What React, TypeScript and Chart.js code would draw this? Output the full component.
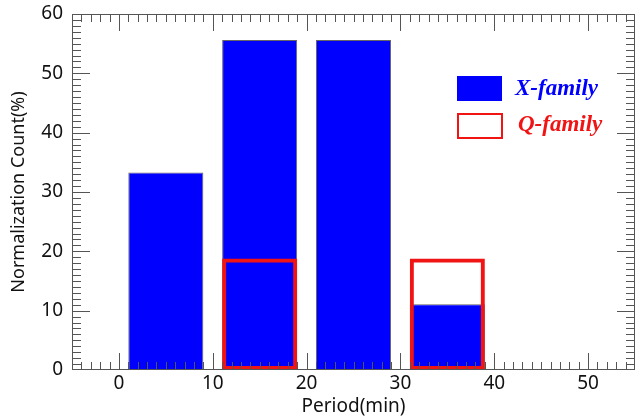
import React, { useEffect, useRef } from "react";
import { Chart, registerables } from "chart.js";

Chart.register(...registerables);

// ---- data ----
const xFamilyPeriods = [5, 15, 25, 35];
const xFamilyValues = [33.3, 55.6, 55.6, 11.1];
const qFamilyPeriods = [15, 35];
const qFamilyValues = [18.8, 18.8];
const xTickValues = [0, 10, 20, 30, 40, 50];
const yTickValues = [0, 10, 20, 30, 40, 50, 60];
const legendLabels = ["X-family", "Q-family"];
const xAxisTitle = "Period(min)";
const yAxisTitle = "Normalization Count(%)";

const BLUE = "#0000FF";
const RED = "#F01414";
const AXIS = "#555555";
const FONT = '"Noto Sans", "Open Sans", sans-serif';

const frameTicksPlugin = {
  id: "frameTicks",
  afterDatasetsDraw(chart: any) {
    const { ctx, chartArea, scales } = chart;
    const { left, right, top, bottom } = chartArea;
    const x = scales.x;
    const y = scales.y;
    ctx.save();
    ctx.strokeStyle = AXIS;
    ctx.lineWidth = 1;
    const line = (x1: number, y1: number, x2: number, y2: number) => {
      ctx.beginPath();
      ctx.moveTo(x1, y1);
      ctx.lineTo(x2, y2);
      ctx.stroke();
    };
    for (let v = Math.ceil(x.min) + 1; v < x.max; v++) {
      const px = Math.round(x.getPixelForValue(v)) + 0.5;
      const len = v % 10 === 0 ? 17 : 8;
      line(px, bottom, px, bottom - len);
      line(px, top, px, top + len);
    }
    for (let v = Math.ceil(y.min) + 1; v < y.max; v++) {
      const py = Math.round(y.getPixelForValue(v)) + 0.5;
      const len = v % 10 === 0 ? 18 : 9;
      line(left, py, left + len, py);
      line(right, py, right - len, py);
    }
    ctx.strokeRect(left + 0.5, top + 0.5, right - left - 1, bottom - top - 1);
    ctx.restore();
  },
};

const legendPlugin = {
  id: "customLegend",
  afterDraw(chart: any) {
    const { ctx, chartArea } = chart;
    const bx = chartArea.left + 385;
    const by = chartArea.top + 62;
    ctx.save();
    ctx.fillStyle = BLUE;
    ctx.fillRect(bx, by, 45, 25);
    ctx.strokeStyle = RED;
    ctx.lineWidth = 2;
    ctx.strokeRect(bx + 1, by + 38, 44, 24);
    ctx.font = 'italic bold 23px "Liberation Serif", "DejaVu Serif", serif';
    ctx.textBaseline = "alphabetic";
    ctx.textAlign = "left";
    ctx.fillStyle = BLUE;
    ctx.fillText(legendLabels[0], bx + 58, by + 19);
    ctx.fillStyle = RED;
    ctx.fillText(legendLabels[1], bx + 61, by + 55);
    ctx.restore();
  },
};

export default function App() {
  const canvasRef = useRef<HTMLCanvasElement | null>(null);

  useEffect(() => {
    const canvas = canvasRef.current;
    if (!canvas) return;
    const chart = new Chart(canvas, {
      type: "bar",
      data: {
        datasets: [
          {
            label: legendLabels[1],
            data: qFamilyPeriods.map((p, i) => ({ x: p, y: qFamilyValues[i] })),
            backgroundColor: "rgba(0,0,0,0)",
            borderColor: RED,
            borderWidth: 4,
            borderSkipped: false,
            order: 0,
          },
          {
            label: legendLabels[0],
            data: xFamilyPeriods.map((p, i) => ({ x: p, y: xFamilyValues[i] })),
            backgroundColor: BLUE,
            borderColor: "#666666",
            borderWidth: 1,
            borderSkipped: false,
            order: 1,
          },
        ],
      },
      options: {
        responsive: false,
        maintainAspectRatio: false,
        animation: false,
        events: [],
        layout: { padding: { top: 14, right: 1, left: 0, bottom: 0 } },
        datasets: {
          bar: { grouped: false, barPercentage: 0.8, categoryPercentage: 1 },
        },
        plugins: {
          legend: { display: false },
          tooltip: { enabled: false },
        },
        scales: {
          x: {
            type: "linear",
            min: -5,
            max: 55,
            offset: false,
            grid: { display: false, offset: false, drawTicks: false },
            border: { display: false },
            afterBuildTicks: (scale: any) => {
              scale.ticks = xTickValues.map((v) => ({ value: v }));
            },
            afterFit: (scale: any) => {
              scale.height = 49;
              scale.paddingLeft = 0;
              scale.paddingRight = 0;
            },
            ticks: {
              font: { family: FONT, size: 19 },
              color: "#111111",
              padding: 2,
              maxRotation: 0,
              autoSkip: false,
            },
            title: {
              display: true,
              text: xAxisTitle,
              font: { family: FONT, size: 19 },
              color: "#111111",
              padding: { top: 0, bottom: 1 },
            },
          },
          y: {
            type: "linear",
            min: 0,
            max: 60,
            grid: { display: false, drawTicks: false },
            border: { display: false },
            afterBuildTicks: (scale: any) => {
              scale.ticks = yTickValues.map((v) => ({ value: v }));
            },
            afterFit: (scale: any) => {
              scale.width = 72;
              scale.paddingTop = 0;
              scale.paddingBottom = 0;
            },
            ticks: {
              font: { family: FONT, size: 19 },
              color: "#111111",
              padding: 9,
            },
            title: {
              display: true,
              text: yAxisTitle,
              font: { family: FONT, size: 18 },
              color: "#111111",
              padding: { top: 8, bottom: 0 },
            },
          },
        },
      },
      plugins: [frameTicksPlugin, legendPlugin],
    } as any);
    return () => chart.destroy();
  }, []);

  return (
    <div style={{ position: "absolute", left: 0, top: 0, width: 636, height: 419, background: "#fff" }}>
      <canvas ref={canvasRef} width={636} height={419} style={{ display: "block" }} />
    </div>
  );
}
